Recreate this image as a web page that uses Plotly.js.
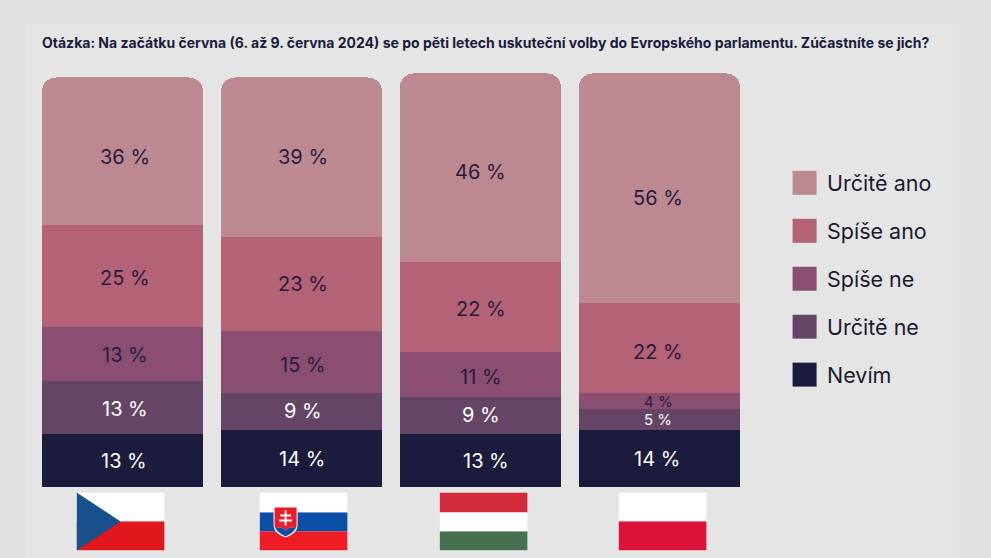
<!DOCTYPE html>
<html><head><meta charset="utf-8">
<script src="https://cdn.plot.ly/plotly-3.0.1.min.js"></script>
<style>html,body{margin:0;padding:0;background:#e2e2e2}</style></head>
<body><div id="c" style="width:991px;height:558px"></div>
<script>
const countries = [0, 1, 2, 3];
const seriesNames = ["Nevím", "Určitě ne", "Spíše ne", "Spíše ano", "Určitě ano"];
const nevim = [13, 14, 13, 14];
const uciteNe = [13, 9, 9, 5];
const spiseNe = [13, 15, 11, 4];
const spiseAno = [25, 23, 22, 22];
const uciteAno = [36, 39, 46, 56];
const seriesValues = [nevim, uciteNe, spiseNe, spiseAno, uciteAno];
const seriesColors = ["#1b1b3d", "#654566", "#8a4f70", "#b46276", "#bc8991"];
const labelColors = ["#ffffff", "#ffffff", "#2a1a40", "#2a1a40", "#2a1a40"];
const question = "Otázka: Na začátku června (6. až 9. června 2024) se po pěti letech uskuteční volby do Evropského parlamentu. Zúčastníte se jich?";
const W = 991, H = 558;
const M = {l: 33.4, r: 241.6, t: 60, b: 70.5};
const PW = W - M.l - M.r, PH = H - M.t - M.b;
const px = v => (v - M.l) / PW, py = v => 1 - (v - M.t) / PH;
const fontBody = "Inter, 'Open Sans', sans-serif";
const columnNudge = [[1, 0, 5, -2.5], [2.5, 1.5, 0, -1.5], [2.5, 1.5, 0, -1.5], [2.5, 1.5, 0, -1.5], [2.5, 1.5, 0, -1.5]];
const rowNudge = [[-1, -1, -1, -1], [-2, 0, 0, 0], [-1, -3, -3, 0], [-2, 0, -2, -4], [-6, 0, -4, -10]];

const traces = seriesNames.map((name, i) => ({
  type: "bar", name, x: countries, y: seriesValues[i],
  marker: {color: seriesColors[i], line: {width: 0}},
  hoverinfo: "name+y", showlegend: false
}));

const svg = s => "data:image/svg+xml;utf8," + encodeURIComponent('<svg xmlns="http://www.w3.org/2000/svg" viewBox="0 0 88 58" preserveAspectRatio="none" width="88" height="58">' + s + '</svg>');
const flagCZ = svg('<rect width="88" height="29" fill="#fff"/><rect y="29" width="88" height="29" fill="#e0181e"/><path d="M0 0L44 29L0 58Z" fill="#17508a"/>');
const flagSK = svg('<rect width="88" height="20" fill="#fff"/><rect y="20" width="88" height="19" fill="#0b4ea8"/><rect y="39" width="88" height="19" fill="#ee1c25"/><path d="M14 15H38V33Q38 41 26 45Q14 41 14 33Z" fill="#fff"/><path d="M15 15H37V33Q37 35 36 36Q31 33 26 38Q21 33 16 36Q15 35 15 33Z" fill="#ee1c25"/><path d="M16 36Q21 33 26 38Q31 33 36 36Q33 41 26 44Q19 41 16 36Z" fill="#0b4ea8"/><path d="M25 18h2v15h-2zM20.500 22h11v2h-11zM19.500 27h13v2h-13z" fill="#fff"/>');
const flagHU = svg('<rect width="88" height="20" fill="#d22a3a"/><rect y="20" width="88" height="19" fill="#fff"/><rect y="39" width="88" height="19" fill="#477050"/>');
const flagPL = svg('<rect width="88" height="29" fill="#fff"/><rect y="29" width="88" height="29" fill="#dc1238"/>');
const flags = [[flagCZ, 77], [flagSK, 260], [flagHU, 440], [flagPL, 619]];

const shapes = [{type: "rect", xref: "paper", yref: "paper", layer: "below", x0: px(27), x1: px(953), y0: py(558), y1: py(24), line: {width: 0}, fillcolor: "#e5e5e5"}];
const annotations = [{
  text: question, xref: "paper", yref: "paper", x: px(40), y: py(42), xanchor: "left", yanchor: "middle", showarrow: false,
  font: {family: "Inter, sans-serif", size: 14, color: "#1b1b3d", weight: 700}
}];
countries.forEach((c, ci) => {
  let base = 0;
  seriesValues.forEach((vals, si) => {
    const v = vals[ci];
    annotations.push({
      text: v + " %", xref: "x", yref: "y", x: c, y: base + v / 2, xanchor: "center", yanchor: "middle", showarrow: false,
      xshift: columnNudge[si][ci], yshift: rowNudge[si][ci],
      font: {family: fontBody, size: v <= 5 ? 15 : 20, color: labelColors[si]}
    });
    base += v;
  });
});
const legendOrder = [4, 3, 2, 1, 0];
legendOrder.forEach((s, i) => {
  const top = 171 + i * 48;
  shapes.push({type: "rect", xref: "paper", yref: "paper", x0: px(793), x1: px(817), y0: py(top + 24), y1: py(top), line: {width: 0}, fillcolor: seriesColors[s]});
  annotations.push({text: seriesNames[s], xref: "paper", yref: "paper", x: px(825), y: py(top + 12), xanchor: "left", yanchor: "middle", showarrow: false, font: {family: fontBody, size: 21.5, color: "#1b1b2d"}});
});

Plotly.newPlot("c", traces, {
  width: W, height: H, barmode: "stack", bargap: 0.1,
  barcornerradius: 14,
  margin: {l: M.l, r: M.r, t: M.t, b: M.b, pad: 0},
  paper_bgcolor: "#e2e2e2", plot_bgcolor: "rgba(0,0,0,0)",
  xaxis: {range: [-0.5, 3.5], visible: false, fixedrange: true},
  yaxis: {range: [0, 104.27], visible: false, fixedrange: true},
  shapes, annotations,
  images: flags.map(([source, left]) => ({source, xref: "paper", yref: "paper", x: px(left), y: py(493), sizex: 88 / PW, sizey: 58 / PH, xanchor: "left", yanchor: "top", sizing: "stretch", layer: "above"}))
}, {displayModeBar: false, staticPlot: true});
</script></body></html>
